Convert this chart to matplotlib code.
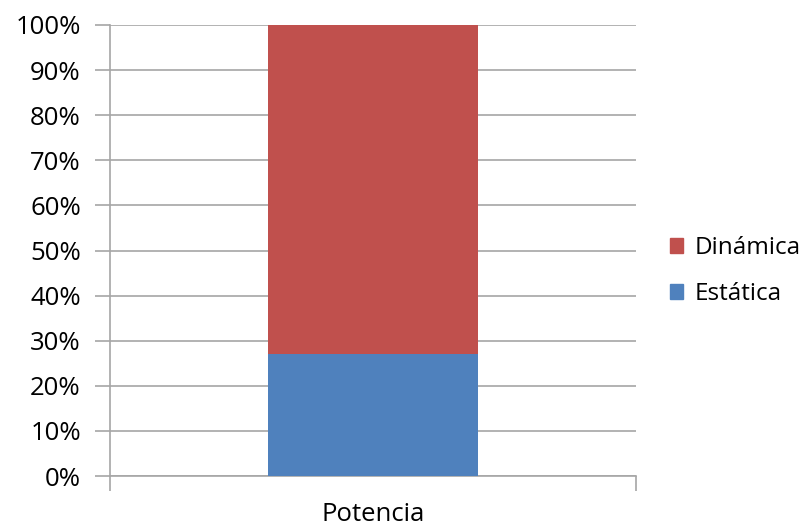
import matplotlib.pyplot as plt
from matplotlib.ticker import MultipleLocator, PercentFormatter
from matplotlib.patches import Patch

categories = ['Potencia']
estatica = [27]
dinamica = [73]
series_names = ['Dinámica', 'Estática']
colors = {'Dinámica': '#C0504D', 'Estática': '#4F81BD'}

plt.rcParams['font.family'] = ['Open Sans', 'DejaVu Sans']

fig = plt.figure(figsize=(8.11, 5.26), dpi=100)
fig.set_facecolor('white')
ax = fig.add_axes([110 / 811, 50 / 526, 526 / 811, 451 / 526])

x = list(range(len(categories)))
ax.bar(x, estatica, width=0.4, color=colors['Estática'], zorder=3)
ax.bar(x, dinamica, width=0.4, bottom=estatica, color=colors['Dinámica'], zorder=3)

ax.set_xlim(-0.5, 0.5)
ax.set_ylim(0, 100)
ax.yaxis.set_major_locator(MultipleLocator(10))
ax.yaxis.set_major_formatter(PercentFormatter(decimals=0))
ax.grid(axis='y', color='#a6a6a6', linewidth=1.2, zorder=0)

ax.set_xticks([-0.5, 0.5])
ax.set_xticklabels(['', ''])
ax.tick_params(axis='x', length=11, color='#a6a6a6', width=1.2)
ax.tick_params(axis='y', length=11, color='#a6a6a6', width=1.2, labelsize=18.5, pad=10)
for i, c in enumerate(categories):
    ax.text(x[i], -5.8, c, ha='center', va='top', fontsize=18.5)

for side in ['top', 'right']:
    ax.spines[side].set_visible(False)
for side in ['left', 'bottom']:
    ax.spines[side].set_color('#a6a6a6')
    ax.spines[side].set_linewidth(1.2)

handles = [Patch(color=colors[n]) for n in series_names]
fig.legend(handles, series_names, loc='center left', bbox_to_anchor=(648 / 811, 1 - 271 / 526),
           frameon=False, fontsize=17.5, handlelength=0.55, handleheight=0.55,
           handletextpad=0.45, labelspacing=0.9)

fig.savefig('out.png', dpi=100)
